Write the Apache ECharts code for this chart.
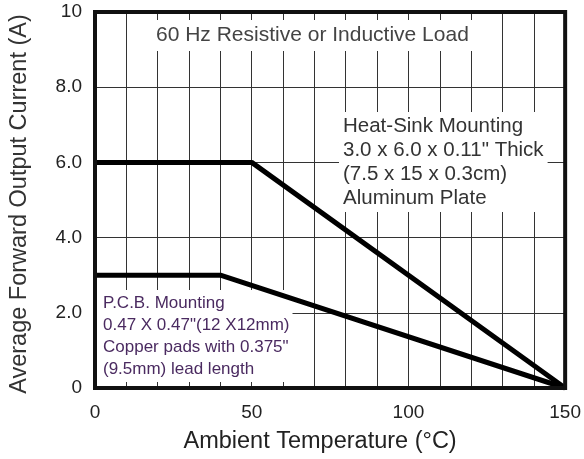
<!DOCTYPE html>
<html>
<head>
<meta charset="utf-8">
<script src="https://cdn.jsdelivr.net/npm/echarts@6/dist/echarts.min.js"></script>
<style>
  html, body { margin: 0; padding: 0; background: #fff; }
  #chart { width: 584px; height: 459px; }
</style>
</head>
<body>
<div id="chart"></div>
<script>
// derating curves
var heatSinkTemp = [0, 50, 150];
var heatSinkCurrent = [6, 6, 0];
var pcbTemp = [0, 40, 150];
var pcbCurrent = [3, 3, 0];

var xTicks = [0, 50, 100, 150];
var yTickLabels = {0: '0', 2: '2.0', 4: '4.0', 6: '6.0', 8: '8.0', 10: '10'};

var titleText = '60 Hz Resistive or Inductive Load';
var heatSinkNote = ['Heat-Sink Mounting', '3.0 x 6.0 x 0.11" Thick', '(7.5 x 15 x 0.3cm)', 'Aluminum Plate'];
var pcbNote = ['P.C.B. Mounting', '0.47 X 0.47"(12 X12mm)', 'Copper pads with 0.375"', '(9.5mm) lead length'];

function pairs(xs, ys) {
    return xs.map(function (x, i) { return [x, ys[i]]; });
}

var chart = echarts.init(document.getElementById('chart'));
var font = 'Liberation Sans, Arial, sans-serif';

var option = {
    backgroundColor: '#fff',
    animation: false,
    grid: {
        left: 93, right: 17, top: 12, bottom: 70,
        show: true, borderColor: '#111', borderWidth: 4, z: 5
    },
    xAxis: {
        type: 'value',
        min: 0, max: 150, interval: 50,
        name: 'Ambient Temperature (°C)',
        nameLocation: 'middle',
        nameGap: 42,
        nameTextStyle: { fontFamily: font, fontSize: 23.5, color: '#222', padding: [0, 20, 0, 0] },
        axisLine: { show: false },
        axisTick: { show: false },
        axisLabel: {
            margin: 15, fontFamily: font, fontSize: 19, color: '#222',
            formatter: function (v) { return xTicks.indexOf(v) >= 0 ? String(v) : ''; }
        },
        splitLine: { show: true, lineStyle: { color: '#333', width: 1 } },
        minorTick: { show: false, splitNumber: 5 },
        minorSplitLine: { show: true, lineStyle: { color: '#333', width: 1 } }
    },
    yAxis: {
        type: 'value',
        min: 0, max: 10, interval: 2,
        name: 'Average Forward Output Current (A)',
        nameLocation: 'middle',
        nameGap: 63,
        nameTextStyle: { fontFamily: font, fontSize: 23.5, color: '#333', padding: [0, 8, 0, 0] },
        axisLine: { show: false },
        axisTick: { show: false },
        axisLabel: {
            margin: 13, fontFamily: font, fontSize: 19, color: '#222',
            formatter: function (v) { return yTickLabels[v]; }
        },
        splitLine: { show: true, lineStyle: { color: '#333', width: 1 } }
    },
    graphic: [
        {
            type: 'text', left: 150, top: 20, z: 1,
            style: {
                text: titleText, font: '21px ' + font, fill: '#444',
                backgroundColor: '#fff', padding: [5, 5, 5, 6]
            }
        },
        {
            type: 'text', left: 339, top: 112, z: 1,
            style: {
                text: heatSinkNote.join('\n'), font: '20.5px ' + font, fill: '#333',
                lineHeight: 24, backgroundColor: '#fff', padding: [2, 4, 2, 4]
            }
        },
        {
            type: 'text', left: 96, top: 290, z: 1,
            style: {
                text: pcbNote.join('\n'), font: '17px ' + font, fill: '#4a2a60',
                lineHeight: 22, backgroundColor: '#fff', padding: [2, 3, 2, 7]
            }
        }
    ],
    series: [
        {
            type: 'line', data: pairs(heatSinkTemp, heatSinkCurrent),
            symbol: 'none', z: 4,
            lineStyle: { color: '#000', width: 5 }
        },
        {
            type: 'line', data: pairs(pcbTemp, pcbCurrent),
            symbol: 'none', z: 4,
            lineStyle: { color: '#000', width: 5 }
        }
    ]
};

chart.setOption(option);
</script>
</body>
</html>
